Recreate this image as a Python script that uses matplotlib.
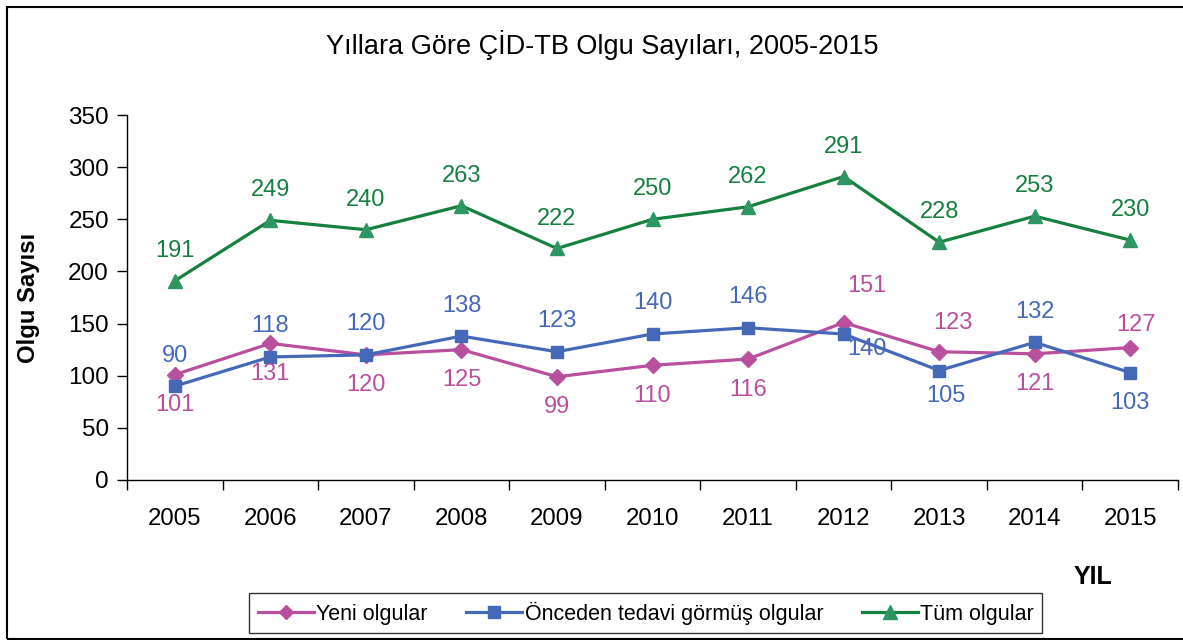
import matplotlib.pyplot as plt
from matplotlib.patches import Rectangle

plt.rcParams['font.family'] = ['Liberation Sans', 'DejaVu Sans']

years = ['2005', '2006', '2007', '2008', '2009', '2010', '2011', '2012', '2013', '2014', '2015']
yeni = [101, 131, 120, 125, 99, 110, 116, 151, 123, 121, 127]
onceden = [90, 118, 120, 138, 123, 140, 146, 140, 105, 132, 103]
tum = [191, 249, 240, 263, 222, 250, 262, 291, 228, 253, 230]

c_yeni = '#B9509E'
c_once = '#4569B8'
c_tum = '#16803F'

# label offsets (points) for each data label
off_yeni = [(0, -22)] * 7 + [(17, 26), (10, 21), (0, -22), (4, 16)]
off_once = [(0, 22)] * 7 + [(17, -11), (5, -18), (0, 22), (0, -22)]
off_tum = [(0, 21.5)] * 11

fig = plt.figure(figsize=(11.83, 6.4), dpi=100)
ax = fig.add_axes([0.1074, 0.25, 0.8884, 0.5703])

x = list(range(len(years)))
ax.plot(x, yeni, color=c_yeni, lw=2.3, marker='D', ms=8, mfc=c_yeni, mec=c_yeni, label='Yeni olgular', zorder=3)
ax.plot(x, onceden, color=c_once, lw=2.3, marker='s', ms=9, mfc=c_once, mec=c_once, label='Önceden tedavi görmüş olgular', zorder=3)
ax.plot(x, tum, color=c_tum, lw=2.3, marker='^', ms=10.5, mfc='#2E9662', mec='#2E9662', label='Tüm olgular', zorder=3)

for vals, offs, col in [(yeni, off_yeni, c_yeni), (onceden, off_once, c_once), (tum, off_tum, c_tum)]:
    for i, v in enumerate(vals):
        ax.annotate(str(v), (i, v), xytext=offs[i], textcoords='offset points',
                    ha='center', va='center', fontsize=17, color=col, zorder=4)

ax.set_xlim(-0.5, 10.5)
ax.set_ylim(0, 350)
ax.set_yticks(range(0, 351, 50))
ax.set_xticks(x)
ax.set_xticklabels(years)
ax.set_xticks([i - 0.5 for i in range(12)], minor=True)
ax.tick_params(axis='x', which='major', length=0, pad=20, labelsize=17.3)
ax.tick_params(axis='x', which='minor', length=7, width=1)
ax.tick_params(axis='y', length=7, width=1, labelsize=17.5, pad=6)
for s in ['top', 'right']:
    ax.spines[s].set_visible(False)
ax.spines['left'].set_linewidth(1)
ax.spines['bottom'].set_linewidth(1)

ax.set_ylabel('Olgu Sayısı', fontsize=17.2, fontweight='bold', labelpad=20)
fig.text(0.509, 0.93, 'Yıllara Göre ÇİD-TB Olgu Sayıları, 2005-2015', ha='center', va='center', fontsize=19.5)
fig.text(0.924, 0.098, 'YIL', ha='center', va='center', fontsize=18, fontweight='bold')

leg = fig.legend(loc='center', bbox_to_anchor=(0.546, 0.042), ncol=3, fontsize=15.5,
                 frameon=True, fancybox=False, edgecolor='black', handlelength=2.6,
                 handletextpad=0.1, columnspacing=1.8, borderpad=0.4, markerscale=0.9)
leg.get_frame().set_linewidth(1)

fig.patches.append(Rectangle((0.006, 0.002), 1.2, 0.987, transform=fig.transFigure,
                             fill=False, edgecolor='black', lw=1.5))

fig.savefig('out.png', dpi=100)
